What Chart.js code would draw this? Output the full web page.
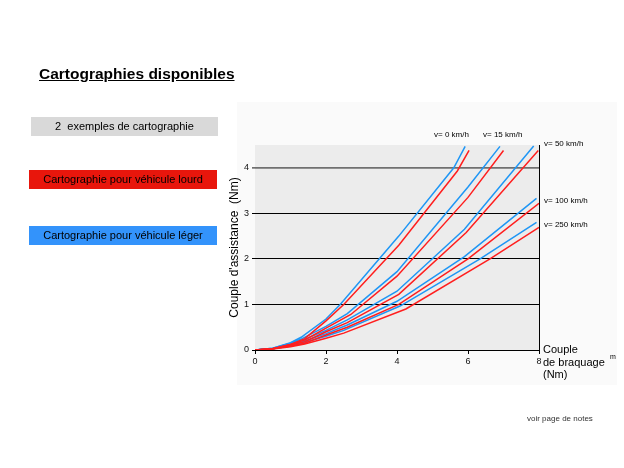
<!DOCTYPE html>
<html>
<head>
<meta charset="utf-8">
<script src="https://cdn.jsdelivr.net/npm/chart.js@4.4.0/dist/chart.umd.min.js"></script>
<style>
  html, body { margin: 0; padding: 0; background: #fff; }
  #wrap { position: relative; width: 624px; height: 468px; overflow: hidden; font-family: Arial, "Liberation Sans", sans-serif; }
  #bgzone { position: absolute; left: 237px; top: 102px; width: 380px; height: 283px; background: #fafafa; }
  canvas { position: absolute; left: 0; top: 0; }
  .t { position: absolute; white-space: nowrap; color: #000; }
  .box { position: absolute; height: 19px; line-height: 19px; text-align: center; font-size: 11px; color: #000; }
</style>
</head>
<body>
<div id="wrap">
  <div id="bgzone"></div>
  <canvas id="c" width="624" height="468"></canvas>
  <div class="t" style="left:39px; top:65px; font-size:15.5px; font-weight:bold; text-decoration:underline;">Cartographies disponibles</div>
  <div class="box" style="left:31px; top:117px; width:187px; background:#d9d9d9;">2&nbsp; exemples de cartographie</div>
  <div class="box" style="left:29px; top:170px; width:188px; background:#e8160c;">Cartographie pour véhicule lourd</div>
  <div class="box" style="left:29px; top:226px; width:188px; background:#3393fb;">Cartographie pour véhicule léger</div>
  <div class="t" style="left:434px; top:130px; font-size:8px;">v= 0 km/h</div>
  <div class="t" style="left:483px; top:130px; font-size:8px;">v= 15 km/h</div>
  <div class="t" style="left:544px; top:139px; font-size:8px;">v= 50 km/h</div>
  <div class="t" style="left:544px; top:196px; font-size:8px;">v= 100 km/h</div>
  <div class="t" style="left:544px; top:220px; font-size:8px;">v= 250 km/h</div>
  <div class="t" style="left:543px; top:343px; font-size:11px; line-height:12.5px;">Couple<br>de braquage<br>(Nm)</div>
  <div class="t" style="left:610px; top:353px; font-size:7px;">m</div>
  <div class="t" style="left:527px; top:414px; font-size:8px; color:#333;">voir page de notes</div>
</div>
<script>
// X ticks / Y ticks
const xTicks = [0, 2, 4, 6, 8];
const yTicks = [0, 1, 2, 3, 4];
const seriesNames = ['v= 0 km/h', 'v= 15 km/h', 'v= 50 km/h', 'v= 100 km/h', 'v= 250 km/h'];

// Véhicule léger (blue)
const xBlue0   = [0, 0.5, 1.0, 1.3, 2.0, 2.4, 4.05, 5.6, 5.92];
const yBlue0   = [0, 0.04, 0.16, 0.28, 0.68, 1.0, 2.5, 4.0, 4.47];
const xBlue15  = [0, 0.5, 1.0, 1.3, 2.0, 2.6, 4.0, 6.0, 6.9];
const yBlue15  = [0, 0.04, 0.15, 0.24, 0.52, 0.8, 1.72, 3.58, 4.47];
const xBlue50  = [0, 0.5, 1.0, 1.3, 2.0, 2.6, 4.0, 5.9, 7.85];
const yBlue50  = [0, 0.035, 0.13, 0.2, 0.43, 0.66, 1.29, 2.65, 4.48];
const xBlue100 = [0, 0.5, 1.0, 1.3, 2.0, 2.6, 4.0, 5.9, 7.93];
const yBlue100 = [0, 0.03, 0.11, 0.17, 0.36, 0.55, 1.07, 2.05, 3.33];
const xBlue250 = [0, 0.5, 1.0, 1.3, 2.0, 2.5, 4.1, 6.34, 7.93];
const yBlue250 = [0, 0.025, 0.09, 0.15, 0.3, 0.43, 0.97, 2.0, 2.8];

// Véhicule lourd (red)
const xRed0   = [0, 0.5, 1.0, 1.4, 2.0, 2.5, 4.05, 5.7, 6.03];
const yRed0   = [0, 0.03, 0.12, 0.25, 0.64, 1.0, 2.3, 3.93, 4.38];
const xRed15  = [0, 0.5, 1.0, 1.4, 2.0, 2.7, 4.0, 6.0, 7.0];
const yRed15  = [0, 0.03, 0.12, 0.22, 0.48, 0.78, 1.62, 3.35, 4.38];
const xRed50  = [0, 0.5, 1.0, 1.4, 2.0, 2.6, 4.05, 5.95, 7.98];
const yRed50  = [0, 0.03, 0.11, 0.18, 0.4, 0.6, 1.22, 2.58, 4.38];
const xRed100 = [0, 0.5, 1.0, 1.4, 2.0, 2.6, 4.05, 6.0, 8.0];
const yRed100 = [0, 0.025, 0.09, 0.15, 0.33, 0.5, 1.0, 2.0, 3.22];
const xRed250 = [0, 0.5, 1.0, 1.4, 2.0, 2.5, 4.25, 6.62, 8.0];
const yRed250 = [0, 0.02, 0.07, 0.13, 0.26, 0.37, 0.9, 2.0, 2.69];

const RED = '#ff1e1e';
const BLUE = '#1e96f5';

function pts(xs, ys) { return xs.map((x, i) => ({ x: x, y: ys[i] })); }
function ds(label, xs, ys, color) {
  return { label: label, data: pts(xs, ys), showLine: true, borderColor: color, backgroundColor: color,
           borderWidth: 1.5, pointRadius: 0, tension: 0, fill: false };
}

const redSets = [[xRed0, yRed0], [xRed15, yRed15], [xRed50, yRed50], [xRed100, yRed100], [xRed250, yRed250]];
const blueSets = [[xBlue0, yBlue0], [xBlue15, yBlue15], [xBlue50, yBlue50], [xBlue100, yBlue100], [xBlue250, yBlue250]];
const datasets = [];
redSets.forEach((s, i) => datasets.push(ds('lourd ' + seriesNames[i], s[0], s[1], RED)));
blueSets.forEach((s, i) => datasets.push(ds('léger ' + seriesNames[i], s[0], s[1], BLUE)));

const plotBg = {
  id: 'plotBg',
  beforeDraw(chart) {
    const a = chart.chartArea, c = chart.ctx;
    c.save(); c.fillStyle = '#ececec';
    c.fillRect(a.left, a.top, a.right - a.left, a.bottom - a.top);
    c.restore();
  }
};

new Chart(document.getElementById('c'), {
  type: 'scatter',
  data: { datasets: datasets },
  plugins: [plotBg],
  options: {
    responsive: false,
    animation: false,
    layout: { padding: { left: 223, right: 85, top: 145, bottom: 18 } },
    plugins: { legend: { display: false }, tooltip: { enabled: false } },
    scales: {
      x: {
        type: 'linear', min: 0, max: 8,
        afterFit: s => { s.height = 100; },
        afterBuildTicks: s => { s.ticks = xTicks.map(v => ({ value: v })); },
        ticks: { padding: 2, maxRotation: 0, color: '#111', font: { size: 9, family: 'Arial' } },
        grid: { color: c => (c.tick && c.tick.value === 8) ? '#000' : 'rgba(0,0,0,0)', tickColor: '#000', tickLength: 4, lineWidth: 1 },
        border: { display: true, color: '#000', width: 1 }
      },
      y: {
        type: 'linear', min: 0, max: 4.5,
        afterFit: s => { s.width = 32; },
        afterBuildTicks: s => { s.ticks = yTicks.map(v => ({ value: v })); },
        ticks: { padding: 3, color: '#111', font: { size: 9, family: 'Arial' } },
        grid: {
          color: c => (c.tick && c.tick.value === 4) ? '#707070' : '#000',
          lineWidth: c => (c.tick && c.tick.value === 4) ? 1.7 : 1,
          tickLength: 3
        },
        border: { display: false },
        title: { display: true, text: "Couple d'assistance  (Nm)", color: '#000', font: { size: 12, family: 'Arial' }, padding: { top: 4, bottom: 4 } }
      }
    }
  }
});
</script>
</body>
</html>
